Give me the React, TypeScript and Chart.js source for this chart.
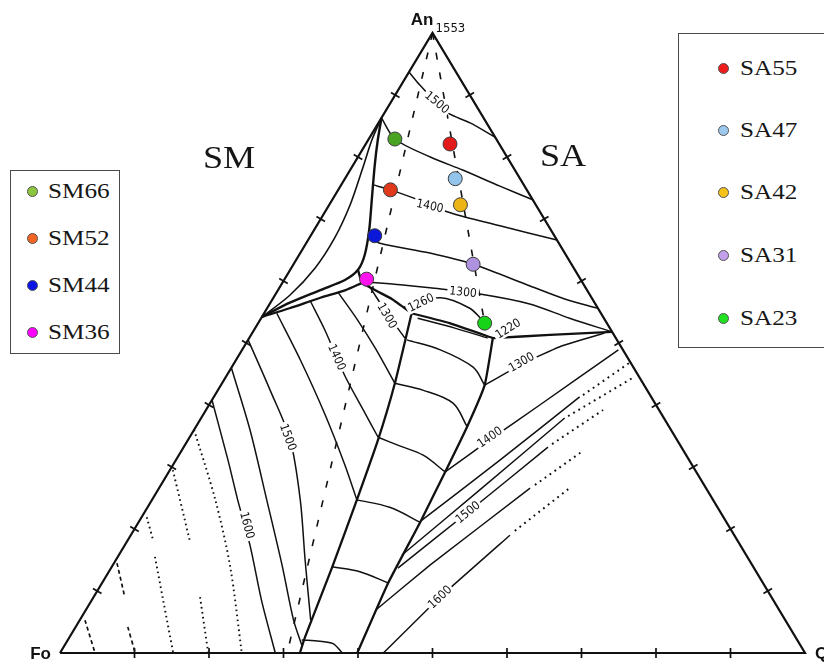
import { useEffect, useRef } from 'react';
import { Chart, registerables } from 'chart.js';

Chart.register(...registerables);

// Compositions are [An wt%, SiO2 wt%]; Fo = 100 - An - SiO2.
type Comp = [number, number];

// ---- samples ----
const smNames = ['SM66', 'SM52', 'SM44', 'SM36'];
const smComps: Comp[] = [[82.9, 3.5], [74.7, 7.0], [67.3, 8.6], [60.3, 11.0]];
const saNames = ['SA55', 'SA47', 'SA42', 'SA31', 'SA23'];
const saComps: Comp[] = [[82.1, 11.3], [76.5, 14.8], [72.3, 17.6], [62.7, 24.1], [53.2, 30.4]];

// ---- triangle and edge ticks ----
const triangle: Comp[] = [[0, 0], [100, 0], [0, 100], [0, 0]];
const tickSteps = [10, 20, 30, 40, 50, 60, 70, 80, 90];

// ---- sample joins (dashed) ----
const smJoin: Comp[] = [[100, 0], [0, 30.5]];
const saJoin: Comp[] = [[100, 0], [53.2, 30.4]];

// ---- field boundaries ----
const spinelInner: Comp[] = [[86.3, 0], [82.7, 1.3], [78.7, 2.9], [73.1, 5.3], [68.2, 7.4], [64.2, 8.8], [61.8, 9.1], [60.2, 8.2], [58.5, 5.6], [56.5, 2.6], [54.2, 0]];
const spinelOuter: Comp[] = [[54.2, 0], [57.7, 2.0], [62.1, 3.2], [66.9, 3.4], [72.3, 2.8], [77.9, 1.6], [82.7, 0.5], [86.3, 0]];
const foSpinel: Comp[] = [[54.2, 0], [55.6, 3.0], [57.3, 6.3], [58.5, 9.0], [59.7, 10.7]];
const foAn: Comp[] = [[61.8, 9.1], [59.7, 10.7], [57.1, 16.0], [54.8, 19.8]];
const anEn: Comp[] = [[54.8, 19.8], [53.2, 25.7], [50.8, 32.7]];
const anSilica: Comp[] = [[50.8, 32.7], [51.3, 40.1], [51.8, 48.2]];
const foEn: Comp[] = [[54.8, 19.8], [43.5, 23.2], [34.4, 25.5], [24.7, 27.5], [13.9, 29.6], [2.6, 31.6], [0, 32.2]];
const enSilica: Comp[] = [[50.8, 32.7], [43.2, 35.4], [36.5, 36.4], [29.2, 37.1], [21.1, 37.8], [11.3, 38.4], [0, 39.9]];
const baseLoop: Comp[] = [[2.1, 31.4], [1.9, 33.9], [1.5, 35.9], [0, 37.9]];

// ---- isotherms: anorthite field ----
const an1500: Comp[] = [[93.7, 0], [91.6, 2.5], [89.5, 5.2], [87.1, 8.5], [85.5, 12.3], [83.2, 16.8]];
const an1450: Comp[] = [[86.3, 0], [82.9, 3.5], [80.0, 9.7], [77.9, 15.1], [75.3, 21.4], [73.1, 26.9]];
const an1400: Comp[] = [[75.5, 4.3], [74.7, 7.0], [73.4, 10.7], [71.0, 16.9], [68.9, 24.6], [66.6, 33.4]];
const an1350: Comp[] = [[67.1, 7.8], [66.1, 9.9], [64.5, 17.4], [62.7, 24.1], [59.2, 33.5], [57.1, 39.2], [55.6, 44.4]];
const an1300: Comp[] = [[59.8, 11.7], [59.4, 16.0], [58.9, 20.2], [57.9, 27.4], [56.3, 34.9], [54.0, 41.4], [51.8, 48.2]];
const an1260: Comp[] = [[55.8, 18.3], [57.3, 22.4], [55.6, 27.2], [53.4, 30.2]];
const an1220: Comp[] = [[54.0, 21.0], [52.4, 26.8], [50.8, 32.0]];

// ---- isotherms: forsterite field ----
const fo1300: Comp[] = [[59.0, 12.1], [54.5, 16.8], [50.8, 20.9]];
const fo1350: Comp[] = [[58.2, 8.2], [53.7, 13.1], [49.2, 17.7], [43.5, 23.2]];
const fo1400: Comp[] = [[56.9, 5.1], [52.1, 9.5], [44.8, 15.8], [39.2, 21.1], [34.8, 25.3]];
const fo1450: Comp[] = [[54.8, 1.7], [47.3, 8.6], [38.4, 16.4], [30.3, 23.1], [24.7, 27.5]];
const fo1500: Comp[] = [[50.5, 0], [42.4, 7.0], [34.4, 13.7], [24.7, 19.9], [15.0, 25.4], [5.3, 31.0]];
const fo1550: Comp[] = [[46.0, 0], [36.0, 7.5], [24.7, 15.4], [14.2, 22.7], [5.3, 28.7], [1.3, 31.8]];
const fo1600: Comp[] = [[40.8, 0], [31.1, 7.0], [24.7, 11.5], [17.4, 16.8], [8.5, 22.8], [0, 28.9]];
const foDotted: Comp[][] = [
  [[36.0, 0], [24.7, 8.5], [13.9, 15.9], [0, 24.4]],
  [[29.5, 0.4], [18.2, 8.3]], [[9.0, 14.3], [0, 19.9]],
  [[21.9, 0.7], [18.2, 3.4]], [[15.5, 5.0], [8.5, 9.6], [0, 15.2]],
];
const foDashed: Comp[][] = [
  [[14.5, 0.4], [9.0, 4.2]], [[4.2, 7.0], [0, 10.1]],
  [[5.3, 0.7], [0, 4.7]],
];

// ---- isotherms: protoenstatite field ----
const enArcs: Comp[][] = [
  [[50.5, 21.3], [48.9, 26.6], [46.1, 32.4], [43.2, 35.4]],
  [[43.5, 23.2], [42.4, 27.5], [40.3, 32.6], [36.5, 36.4]],
  [[34.8, 25.3], [33.4, 28.9], [31.9, 32.8], [29.2, 37.1]],
  [[24.7, 27.5], [23.5, 32.5], [21.1, 37.8]],
  [[13.9, 29.6], [13.1, 33.7], [11.3, 38.4]],
];

// ---- isotherms: silica field (solid part, then dotted continuation) ----
const si1300: Comp[] = [[43.2, 35.4], [46.6, 38.7], [49.4, 42.4], [51.6, 47.3]];
const si1400: Comp[] = [[29.2, 37.1], [34.4, 40.5], [40.0, 44.4], [48.9, 50.5]];
const siSolid: Comp[][] = [
  [[21.3, 37.8], [31.1, 43.5], [41.3, 49.1]],
  [[15.8, 38.0], [26.3, 43.2], [37.9, 48.8]],
  [[13.7, 38.5], [22.7, 43.4], [33.2, 48.9]],
  [[6.9, 38.9], [14.2, 42.6], [26.6, 49.8]],
  [[0, 43.4], [9.0, 46.5], [19.0, 50.9]],
];
const siDotted: Comp[][] = [
  [[41.6, 49.4], [46.9, 53.1]],
  [[38.2, 49.1], [44.4, 54.7]],
  [[33.7, 49.2], [39.2, 53.3]],
  [[27.1, 50.2], [32.3, 53.7]],
  [[19.7, 51.2], [26.6, 55.1]],
];

// ---- isotherm labels ----
const isoText = ['1500', '1400', '1300', '1260', '1220', '1300', '1400', '1500', '1600', '1300', '1400', '1500', '1600'];
const isoAt: Comp[] = [[88.8, 6.2], [72.1, 13.6], [58.2, 25.0], [56.5, 20.2], [52.3, 34.0], [54.4, 16.7], [47.7, 13.3], [34.8, 13.2], [20.6, 14.8], [46.9, 38.5], [34.8, 40.3], [22.7, 43.4], [9.0, 46.5]];
const isoAngle = [40, 12, 6, -26, -32, 60, 66, 70, 75, -30, -35, -39, -44];

// legend swatches and mark fills
const smKey = ['#8cc63f', '#f26522', '#0a14e6', '#ff00ff'];
const smFill = ['#4aa424', '#e0381a', '#0c18d8', '#ff12ee'];
const saKey = ['#ee1c1c', '#9ec9ef', '#f5c21a', '#c3a0ec', '#22e022'];
const saFill = ['#e31a1a', '#92c4ec', '#ecb414', '#ae92e0', '#18d418'];

const toXY = ([an, q]: Comp) => ({ x: q + an / 2, y: an });

const INK = '#111111';

function line(pts: Comp[], width: number, extra: Record<string, unknown> = {}) {
  return {
    data: pts.map(toXY),
    showLine: true,
    borderColor: INK,
    borderWidth: width,
    pointRadius: 0,
    tension: 0.3,
    clip: false as const,
    fill: false,
    ...extra,
  };
}

function ticks(pts: Comp[], angle: number) {
  return {
    data: pts.map(toXY),
    showLine: false,
    pointStyle: 'line' as const,
    pointRadius: 5,
    pointBorderWidth: 1.7,
    pointBorderColor: INK,
    borderColor: INK,
    pointRotation: angle,
    clip: false as const,
  };
}

const annotate = {
  id: 'annotate',
  beforeDatasetDraw(chart: Chart, args: { index: number }) {
    if (args.index !== 0) return;
    const { ctx } = chart;
    const xs = chart.scales.x;
    const ys = chart.scales.y;
    const px = (c: Comp) => {
      const p = toXY(c);
      return [xs.getPixelForValue(p.x), ys.getPixelForValue(p.y)];
    };
    ctx.save();
    ctx.font = '12px "DejaVu Sans Condensed", "DejaVu Sans", sans-serif';
    ctx.textAlign = 'center';
    ctx.textBaseline = 'middle';
    isoText.forEach((t, i) => {
      const [x, y] = px(isoAt[i]);
      ctx.save();
      ctx.translate(x, y);
      ctx.rotate((isoAngle[i] * Math.PI) / 180);
      const w = ctx.measureText(t).width;
      ctx.fillStyle = '#ffffff';
      ctx.fillRect(-w / 2 - 2, -6, w + 4, 12);
      ctx.fillStyle = INK;
      ctx.fillText(t, 0, 0.5);
      ctx.restore();
    });

    // corner names
    const [ax, ay] = px([100, 0]);
    const [fx, fy] = px([0, 0]);
    const [qx, qy] = px([0, 100]);
    ctx.textBaseline = 'alphabetic';
    ctx.fillStyle = INK;
    ctx.font = 'bold 17px "Liberation Sans", Arial, sans-serif';
    ctx.textAlign = 'right';
    ctx.fillText('An', ax + 1, ay - 8);
    ctx.fillText('Fo', fx - 9, fy + 6);
    ctx.textAlign = 'left';
    ctx.fillText('Q', qx + 10, qy + 6);
    ctx.font = '13px "DejaVu Sans Condensed", "DejaVu Sans", sans-serif';
    ctx.fillText('1553', ax + 3, ay - 1);
    ctx.restore();
  },
};

function Legend({ names, colors, left, top, width, height, dotX, textX, rows }: {
  names: string[]; colors: string[]; left: number; top: number; width: number; height: number;
  dotX: number; textX: number; rows: number[];
}) {
  return (
    <>
      <div style={{ position: 'absolute', left, top, width, height, border: '1px solid #4a4a4a', boxSizing: 'border-box', background: '#fff' }} />
      {names.map((n, i) => (
        <div key={n}>
          <div style={{ position: 'absolute', left: dotX - 5.5, top: rows[i] - 5.5, width: 11, height: 11, borderRadius: '50%', background: colors[i], border: '1px solid #555', boxSizing: 'border-box' }} />
          <div style={{ position: 'absolute', left: textX, top: rows[i] - 12, height: 24, lineHeight: '24px', font: '21px "Liberation Serif", "Times New Roman", serif', color: '#161616', transform: 'scaleX(1.2)', transformOrigin: 'left center', whiteSpace: 'nowrap' }}>{n}</div>
        </div>
      ))}
    </>
  );
}

export default function App() {
  const ref = useRef<HTMLCanvasElement>(null);

  useEffect(() => {
    if (!ref.current) return;
    const allComps = [...smComps, ...saComps];
    const datasets: any[] = [
      {
        data: allComps.map(toXY),
        showLine: false,
        pointRadius: 7,
        pointBackgroundColor: [...smFill, ...saFill],
        pointBorderColor: '#3a3a3a',
        pointBorderWidth: 1,
        clip: false,
      },
      ticks(tickSteps.map((v) => [0, v] as Comp), 90),
      ticks(tickSteps.map((v) => [v, 0] as Comp), 31),
      ticks(tickSteps.map((v) => [v, 100 - v] as Comp), -31),
      line(triangle, 2.2, { tension: 0 }),
      line(smJoin, 1.6, { tension: 0, borderDash: [7, 13] }),
      line(saJoin, 1.6, { tension: 0, borderDash: [7, 13] }),
      line(spinelInner, 2.4),
      line(spinelOuter, 1.6),
      line(foSpinel, 2.3),
      line(foAn, 2.3, { tension: 0.1 }),
      line(anEn, 2.3, { tension: 0.1 }),
      line(anSilica, 2.3, { tension: 0.1 }),
      line(foEn, 2.3, { tension: 0.15 }),
      line(enSilica, 2.3, { tension: 0.15 }),
      line(baseLoop, 1.5),
      ...[an1500, an1450, an1400, an1350, an1300, an1260, an1220].map((p) => line(p, 1.5)),
      ...[fo1300, fo1350, fo1400, fo1450, fo1500, fo1550, fo1600].map((p) => line(p, 1.5)),
      ...foDotted.map((p) => line(p, 1.9, { borderDash: [1.6, 3.4] })),
      ...foDashed.map((p) => line(p, 1.7, { borderDash: [4, 3] })),
      ...enArcs.map((p) => line(p, 1.5, { tension: 0.35 })),
      line(si1300, 1.5, { tension: 0.15 }),
      line(si1400, 1.5, { tension: 0.1 }),
      ...siSolid.map((p) => line(p, 1.5, { tension: 0.1 })),
      ...siDotted.map((p) => line(p, 2, { tension: 0, borderDash: [1.8, 4.2] })),
    ];

    const chart = new Chart(ref.current, {
      type: 'scatter',
      data: { datasets },
      options: {
        responsive: false,
        animation: false,
        events: [],
        layout: { padding: { left: 60, right: 19, top: 33, bottom: 9 } },
        scales: {
          x: { type: 'linear', min: 0, max: 100, display: false },
          y: { type: 'linear', min: 0, max: 100, display: false },
        },
        plugins: { legend: { display: false }, tooltip: { enabled: false } },
      },
      plugins: [annotate as any],
    });
    return () => chart.destroy();
  }, []);

  return (
    <div style={{ position: 'fixed', left: 0, top: 0, width: 824, height: 662, background: '#fff', overflow: 'hidden' }}>
      <canvas ref={ref} width={824} height={662} style={{ position: 'absolute', left: 0, top: 0, width: 824, height: 662 }} />
      <div style={{ position: 'absolute', left: 203, top: 141, font: '32px "Liberation Serif", "Times New Roman", serif', lineHeight: '32px', color: '#161616', transform: 'scaleX(1.13)', transformOrigin: 'left center' }}>SM</div>
      <div style={{ position: 'absolute', left: 540, top: 139, font: '32px "Liberation Serif", "Times New Roman", serif', lineHeight: '32px', color: '#161616', transform: 'scaleX(1.13)', transformOrigin: 'left center' }}>SA</div>
      <Legend names={smNames} colors={smKey} left={10} top={170} width={110} height={184} dotX={32} textX={48} rows={[191, 238, 285, 332]} />
      <Legend names={saNames} colors={saKey} left={678} top={33} width={170} height={315} dotX={723} textX={740} rows={[68, 130, 192, 255, 318]} />
    </div>
  );
}
